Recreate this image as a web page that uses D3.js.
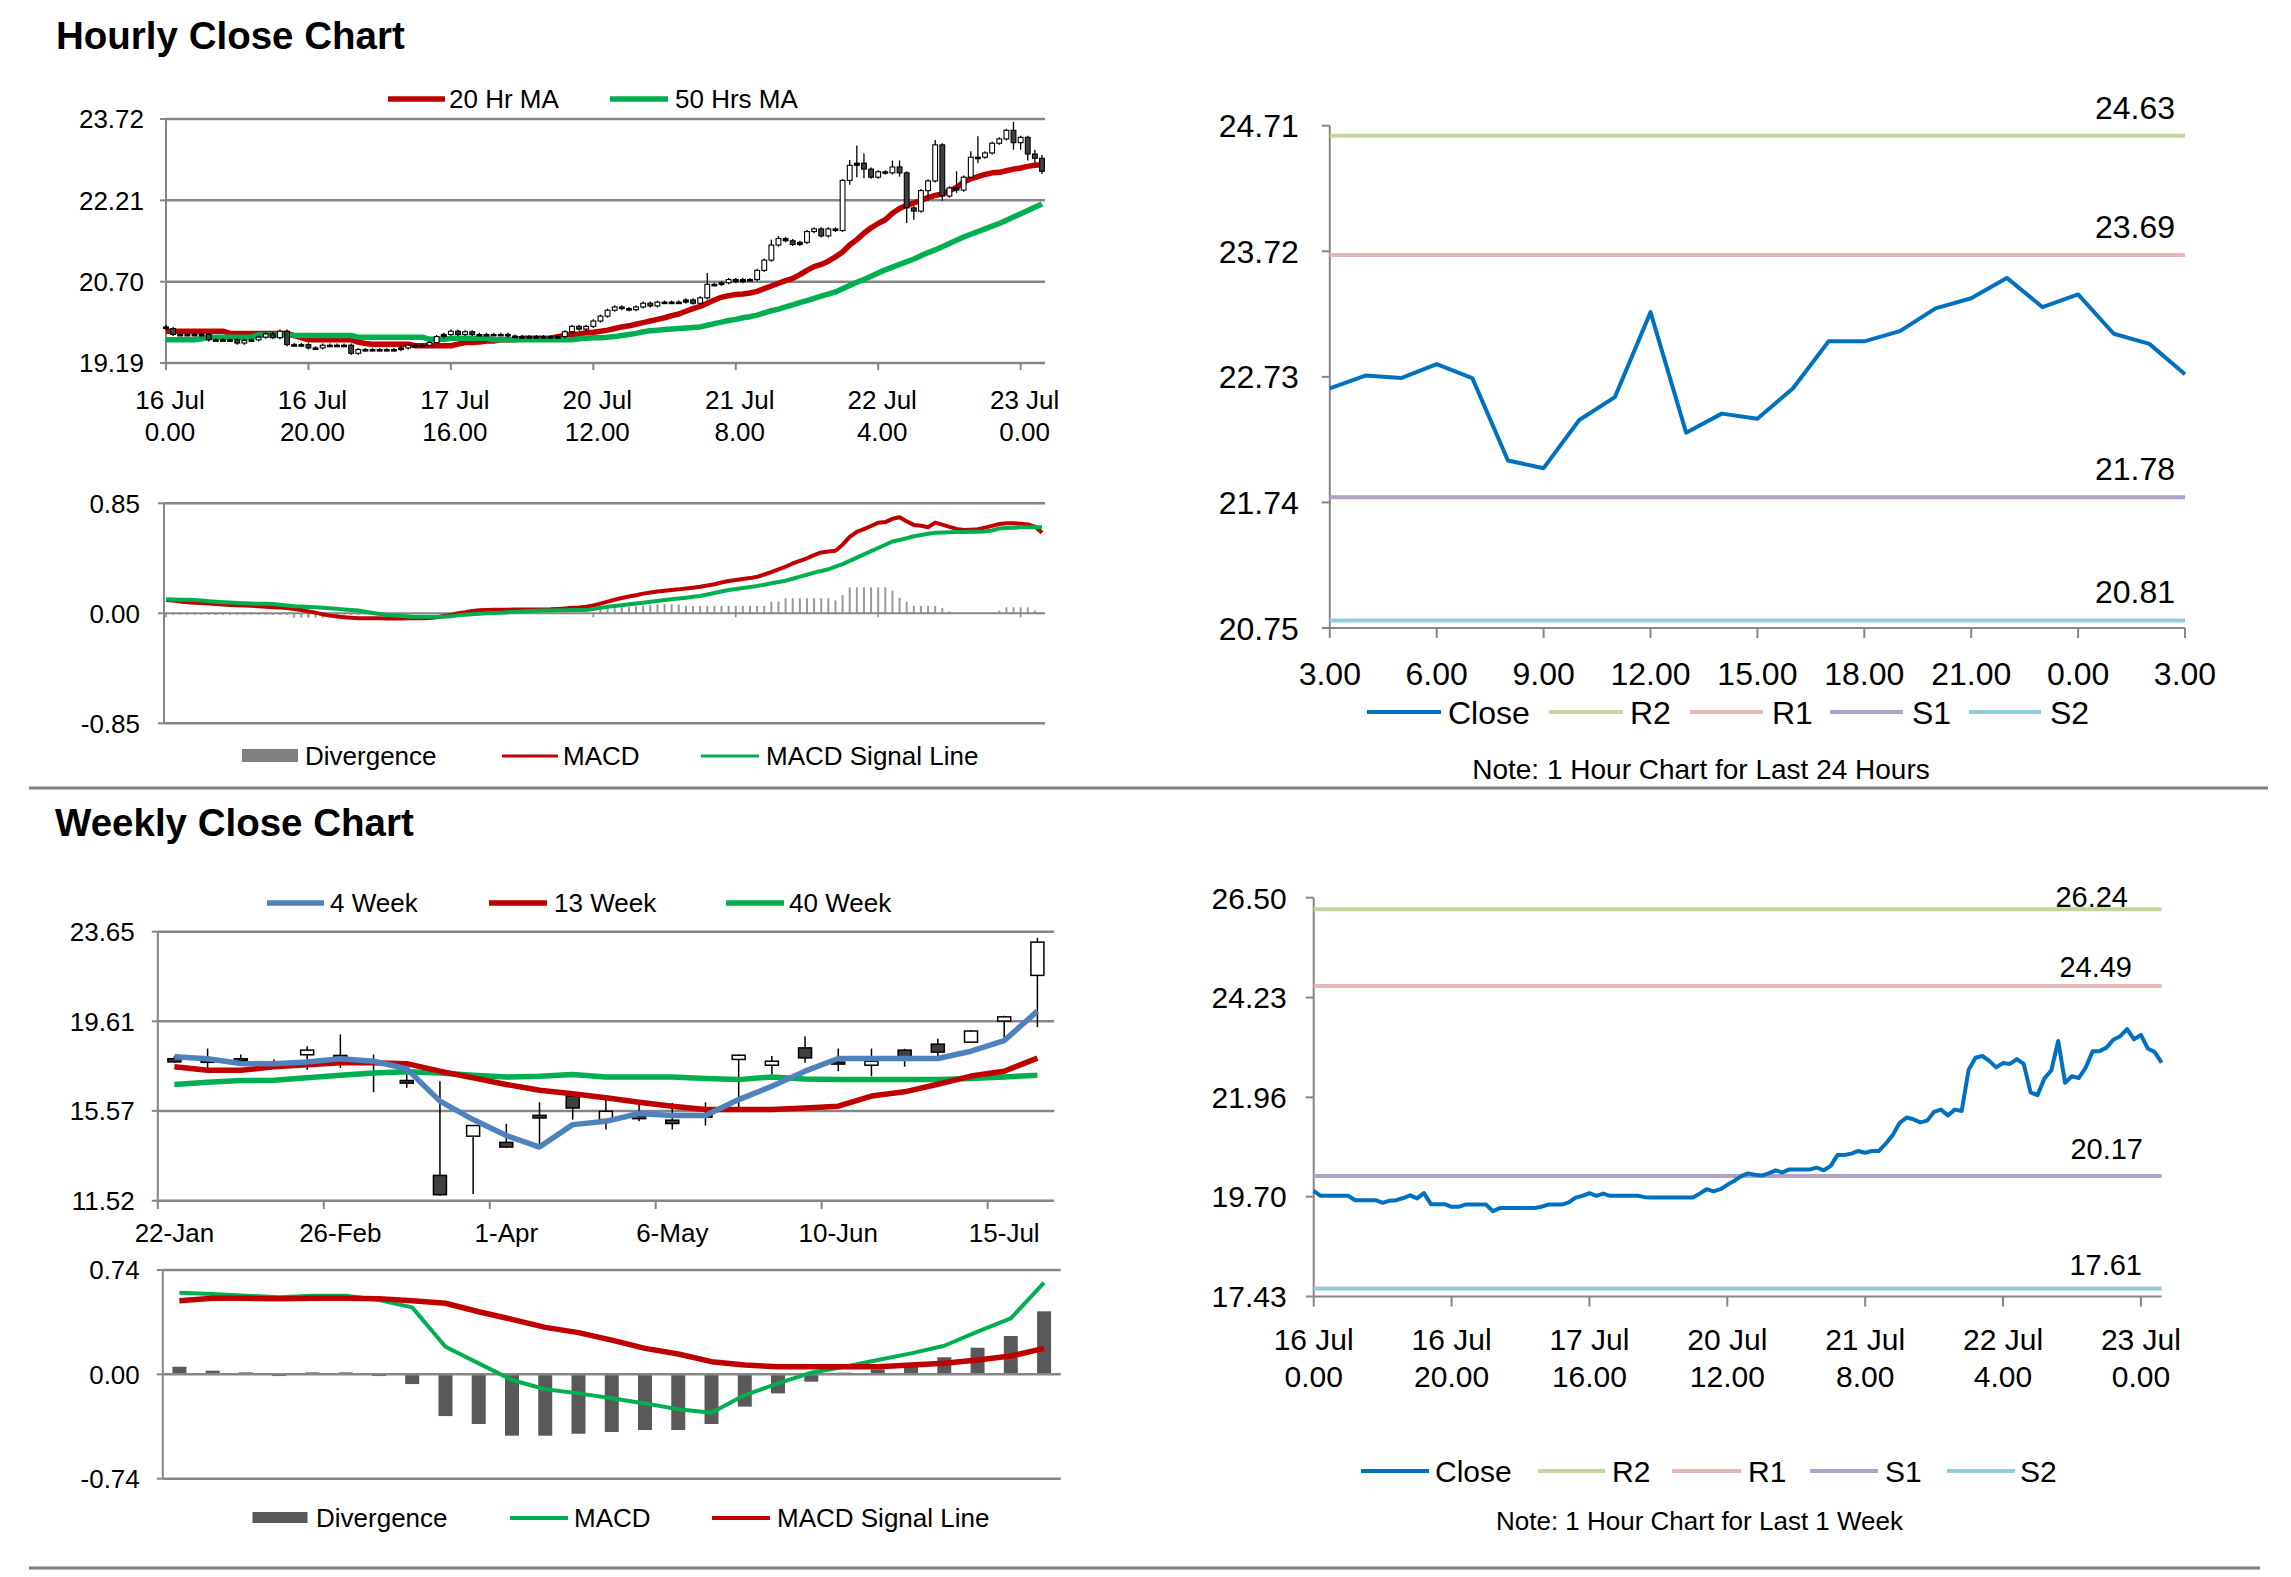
<!DOCTYPE html>
<html>
<head>
<meta charset="utf-8">
<script src="https://cdn.jsdelivr.net/npm/d3@7"></script>
<style>
body { margin: 0; background: #fff; }
text { font-family: "Liberation Sans", Arial, sans-serif; fill: #000; }
</style>
</head>
<body>
<script>
//hourly candles, 16 Jul 0.00 to 23 Jul 3.00
var hourOpen = [19.86,19.83,19.72,19.72,19.72,19.72,19.72,19.62,19.62,19.62,19.62,19.56,19.61,19.62,19.67,19.73,19.66,19.78,19.53,19.53,
  19.53,19.47,19.47,19.52,19.52,19.52,19.52,19.37,19.44,19.44,19.44,19.44,19.44,19.44,19.47,19.52,19.52,19.52,19.57,19.68,
  19.72,19.78,19.72,19.77,19.72,19.72,19.72,19.72,19.72,19.69,19.68,19.68,19.68,19.68,19.68,19.68,19.68,19.77,19.87,19.82,
  19.87,19.97,20.06,20.17,20.23,20.20,20.18,20.23,20.30,20.25,20.32,20.32,20.32,20.32,20.36,20.30,20.40,20.65,20.65,20.68,
  20.74,20.70,20.74,20.74,20.91,21.10,21.38,21.50,21.46,21.39,21.43,21.63,21.68,21.55,21.68,21.65,22.58,22.86,22.90,22.79,
  22.64,22.74,22.72,22.83,22.72,22.07,22.01,22.39,22.57,23.24,22.29,22.44,22.40,22.64,23.01,23.01,23.09,23.27,23.35,23.51,
  23.28,23.38,23.07,22.99];
var hourHigh = [19.90,19.86,19.75,19.75,19.75,19.75,19.75,19.65,19.65,19.65,19.65,19.64,19.65,19.70,19.76,19.76,19.81,19.81,19.56,19.56,
  19.56,19.50,19.55,19.55,19.55,19.55,19.55,19.47,19.47,19.47,19.47,19.47,19.47,19.50,19.55,19.55,19.55,19.60,19.71,19.75,
  19.81,19.81,19.80,19.80,19.75,19.75,19.75,19.75,19.75,19.72,19.71,19.71,19.71,19.71,19.71,19.71,19.80,19.90,19.90,19.90,
  20.00,20.09,20.20,20.26,20.26,20.23,20.26,20.33,20.33,20.35,20.35,20.35,20.35,20.39,20.39,20.43,20.86,20.68,20.71,20.77,
  20.77,20.77,20.77,20.94,21.13,21.48,21.55,21.53,21.49,21.46,21.66,21.71,21.71,21.71,21.71,22.61,22.96,23.23,23.08,22.82,
  22.77,22.77,22.95,22.95,22.75,22.10,22.42,22.60,23.33,23.27,22.47,22.75,22.67,23.12,23.40,23.12,23.30,23.38,23.54,23.67,
  23.41,23.41,23.15,23.05];
var hourLow = [19.80,19.69,19.69,19.69,19.69,19.69,19.59,19.59,19.59,19.59,19.53,19.53,19.58,19.59,19.64,19.63,19.63,19.50,19.50,19.50,
  19.44,19.44,19.44,19.49,19.49,19.49,19.34,19.34,19.41,19.41,19.41,19.41,19.41,19.41,19.44,19.49,19.49,19.49,19.54,19.65,
  19.69,19.69,19.69,19.69,19.69,19.69,19.69,19.69,19.66,19.65,19.65,19.65,19.65,19.65,19.65,19.65,19.65,19.74,19.79,19.79,
  19.84,19.94,20.03,20.14,20.17,20.15,20.15,20.20,20.22,20.22,20.29,20.29,20.29,20.29,20.27,20.27,20.37,20.62,20.62,20.65,
  20.67,20.67,20.71,20.71,20.88,21.07,21.35,21.43,21.36,21.36,21.40,21.60,21.52,21.52,21.62,21.62,22.50,22.64,22.62,22.61,
  22.61,22.69,22.69,22.65,21.79,21.85,21.98,22.20,22.54,22.20,22.26,22.35,22.37,22.61,22.90,22.98,23.06,23.24,23.32,23.15,
  23.15,22.95,22.90,22.70];
var hourClose = [19.83,19.72,19.72,19.72,19.72,19.72,19.62,19.62,19.62,19.62,19.56,19.61,19.62,19.67,19.73,19.66,19.78,19.53,19.53,19.53,
  19.47,19.47,19.52,19.52,19.52,19.52,19.37,19.44,19.44,19.44,19.44,19.44,19.44,19.47,19.52,19.52,19.52,19.57,19.68,19.72,
  19.78,19.72,19.77,19.72,19.72,19.72,19.72,19.72,19.69,19.68,19.68,19.68,19.68,19.68,19.68,19.68,19.77,19.87,19.82,19.87,
  19.97,20.06,20.17,20.23,20.20,20.18,20.23,20.30,20.25,20.32,20.32,20.32,20.32,20.36,20.30,20.40,20.65,20.65,20.68,20.74,
  20.70,20.74,20.74,20.91,21.10,21.38,21.50,21.46,21.39,21.43,21.63,21.68,21.55,21.68,21.65,22.58,22.86,22.90,22.79,22.64,
  22.74,22.72,22.83,22.72,22.07,22.01,22.39,22.57,23.24,22.29,22.44,22.40,22.64,23.01,23.01,23.09,23.27,23.35,23.51,23.28,
  23.38,23.07,22.99,22.75];
var ma20 = [19.78,19.78,19.78,19.78,19.78,19.78,19.78,19.78,19.78,19.74,19.74,19.74,19.74,19.74,19.74,19.74,19.74,19.74,19.70,19.66,
  19.62,19.62,19.62,19.62,19.62,19.62,19.62,19.58,19.55,19.54,19.54,19.54,19.54,19.54,19.54,19.51,19.51,19.51,19.51,19.51,
  19.51,19.54,19.57,19.57,19.58,19.60,19.60,19.62,19.62,19.62,19.65,19.65,19.65,19.65,19.65,19.68,19.70,19.72,19.73,19.75,
  19.76,19.78,19.80,19.83,19.86,19.88,19.91,19.94,19.97,20.00,20.03,20.07,20.10,20.15,20.20,20.24,20.30,20.36,20.41,20.44,
  20.46,20.47,20.49,20.52,20.57,20.62,20.67,20.72,20.76,20.83,20.91,20.98,21.02,21.08,21.16,21.25,21.38,21.48,21.60,21.70,
  21.78,21.85,21.97,22.06,22.12,22.16,22.21,22.26,22.30,22.33,22.39,22.45,22.55,22.61,22.65,22.69,22.72,22.73,22.76,22.79,
  22.81,22.84,22.86,22.87];
var ma50 = [19.62,19.62,19.62,19.62,19.62,19.64,19.67,19.67,19.67,19.67,19.67,19.67,19.67,19.71,19.71,19.71,19.71,19.71,19.70,19.70,
  19.70,19.70,19.70,19.70,19.70,19.70,19.70,19.67,19.67,19.67,19.67,19.67,19.67,19.67,19.67,19.67,19.67,19.63,19.63,19.63,
  19.65,19.65,19.65,19.65,19.65,19.65,19.62,19.62,19.62,19.62,19.62,19.62,19.62,19.62,19.62,19.62,19.62,19.62,19.64,19.65,
  19.66,19.66,19.67,19.68,19.70,19.72,19.74,19.77,19.79,19.80,19.81,19.82,19.83,19.84,19.85,19.86,19.89,19.92,19.95,19.98,
  20.00,20.03,20.05,20.08,20.12,20.16,20.19,20.23,20.27,20.31,20.35,20.39,20.43,20.47,20.51,20.57,20.63,20.69,20.74,20.80,
  20.86,20.92,20.97,21.02,21.07,21.12,21.18,21.24,21.29,21.35,21.41,21.47,21.53,21.58,21.63,21.68,21.73,21.78,21.84,21.90,
  21.96,22.02,22.08,22.14];
var hourTicks = [["16 Jul","0.00"],["16 Jul","20.00"],["17 Jul","16.00"],["20 Jul","12.00"],["21 Jul","8.00"],["22 Jul","4.00"],["23 Jul","0.00"]];
var hourPriceTicks = [19.19, 20.70, 22.21, 23.72];

//hourly MACD
var hMacd = [0.103,0.098,0.092,0.085,0.082,0.080,0.076,0.072,0.068,0.065,0.062,0.060,0.058,0.055,0.050,0.046,0.044,0.040,0.034,0.026,
  0.015,0.005,-0.008,-0.018,-0.024,-0.030,-0.035,-0.038,-0.039,-0.039,-0.039,-0.040,-0.040,-0.040,-0.039,-0.039,-0.039,-0.037,-0.030,-0.021,
  -0.012,0.000,0.008,0.018,0.024,0.026,0.027,0.028,0.028,0.029,0.029,0.030,0.030,0.030,0.031,0.034,0.038,0.042,0.045,0.050,
  0.060,0.075,0.090,0.105,0.118,0.130,0.140,0.152,0.160,0.168,0.175,0.180,0.185,0.192,0.198,0.205,0.215,0.225,0.238,0.250,
  0.258,0.265,0.272,0.282,0.300,0.318,0.340,0.360,0.385,0.405,0.425,0.450,0.470,0.478,0.484,0.530,0.590,0.630,0.650,0.675,
  0.700,0.705,0.730,0.742,0.710,0.683,0.676,0.665,0.701,0.685,0.668,0.652,0.644,0.646,0.649,0.662,0.676,0.690,0.696,0.696,
  0.692,0.686,0.670,0.623];
var hSignal = [0.108,0.106,0.105,0.104,0.102,0.098,0.094,0.090,0.086,0.083,0.080,0.078,0.076,0.074,0.073,0.072,0.066,0.060,0.055,0.052,
  0.049,0.046,0.042,0.039,0.035,0.030,0.025,0.021,0.012,0.003,-0.006,-0.013,-0.017,-0.021,-0.024,-0.026,-0.026,-0.026,-0.026,-0.026,
  -0.022,-0.016,-0.011,-0.007,-0.004,0.000,0.003,0.005,0.008,0.011,0.014,0.017,0.019,0.021,0.022,0.023,0.024,0.025,0.026,0.026,
  0.034,0.042,0.050,0.057,0.063,0.070,0.076,0.082,0.089,0.095,0.102,0.108,0.114,0.121,0.128,0.134,0.145,0.157,0.168,0.180,
  0.188,0.196,0.203,0.211,0.221,0.232,0.242,0.252,0.267,0.283,0.298,0.314,0.327,0.340,0.360,0.380,0.405,0.430,0.455,0.480,
  0.505,0.530,0.555,0.567,0.580,0.595,0.605,0.614,0.623,0.625,0.627,0.628,0.629,0.630,0.631,0.633,0.640,0.655,0.660,0.662,
  0.665,0.665,0.665,0.665];
var hDiverge = [-0.012,-0.012,-0.012,-0.012,-0.012,-0.012,-0.012,-0.012,-0.012,-0.012,-0.012,-0.012,-0.012,-0.012,-0.012,-0.012,-0.012,-0.012,-0.035,-0.035,
  -0.035,-0.035,-0.035,-0.012,-0.012,-0.012,-0.012,-0.012,-0.012,-0.012,-0.012,-0.012,-0.012,-0.012,-0.012,0,0,0,0,0,
  0,0,0,0,0,0,0,0,0,0,0,0,0,0,0,0,0,0,0,0,
  0,0.030,0.035,0.040,0.045,0.050,0.055,0.060,0.065,0.070,0.070,0.070,0.068,0.057,0.057,0.057,0.057,0.057,0.057,0.057,
  0.057,0.057,0.057,0.057,0.057,0.090,0.090,0.116,0.116,0.116,0.116,0.116,0.116,0.116,0.100,0.140,0.200,0.200,0.200,0.200,
  0.200,0.200,0.175,0.120,0.090,0.057,0.057,0.057,0.057,0.040,0.015,0.003,0.003,0.003,0.003,0.003,0.003,0.020,0.046,0.046,
  0.046,0.046,0.020,0.005];

//24 hour close with pivot levels
var dayClose = hourClose.slice(99);
var dayTicks = ["3.00","6.00","9.00","12.00","15.00","18.00","21.00","0.00","3.00"];
var dayPriceTicks = [20.75, 21.74, 22.73, 23.72, 24.71];
var dayLevelNames = ["R2","R1","S1","S2"];
var dayLevels = [24.63, 23.69, 21.78, 20.81];

//1 week close with pivot levels
var weekPriceTicks = [17.43, 19.70, 21.96, 24.23, 26.50];
var weekLevels = [26.24, 24.49, 20.17, 17.61];

//weekly candles
var weekLabels = ["22-Jan","29-Jan","5-Feb","12-Feb","19-Feb","26-Feb","4-Mar","11-Mar","18-Mar","25-Mar","1-Apr","8-Apr","15-Apr","22-Apr",
  "29-Apr","6-May","13-May","20-May","27-May","3-Jun","10-Jun","17-Jun","24-Jun","1-Jul","8-Jul","15-Jul","22-Jul"];
var wOpen  = [17.92,17.85,17.92,17.76,18.10,18.07,17.80,16.94,12.66,14.43,14.15,15.37,16.23,15.18,15.33,15.15,15.38,17.89,17.63,18.41,17.77,17.63,18.31,18.58,18.67,19.62,21.68];
var wHigh  = [18.04,18.38,18.11,17.89,18.49,19.02,18.11,17.28,16.91,14.93,14.99,15.96,16.46,16.08,15.85,15.93,15.96,18.11,18.04,18.94,18.38,18.38,18.37,18.82,19.22,19.86,23.38];
var wLow   = [17.74,17.28,17.74,17.59,17.43,17.51,16.41,16.61,11.75,11.82,13.90,13.90,15.18,14.73,15.10,14.73,14.91,15.70,17.21,17.74,17.36,17.13,17.56,18.04,18.64,18.71,19.35];
var wClose = [17.78,17.80,17.88,17.73,18.31,17.95,17.76,16.82,11.79,14.91,13.94,15.25,15.70,15.55,15.22,15.00,15.35,18.08,17.81,17.96,17.74,17.81,18.01,18.22,19.17,19.81,23.18];
var ma4w  = [18.01,17.92,17.71,17.69,17.77,17.92,17.81,17.47,16.01,15.18,14.46,13.94,14.95,15.10,15.45,15.36,15.36,16.08,16.68,17.36,17.93,17.93,17.93,17.93,18.26,18.74,20.07];
var ma13w = [17.56,17.40,17.40,17.56,17.65,17.74,17.74,17.70,17.36,17.06,16.76,16.50,16.34,16.16,15.96,15.78,15.63,15.63,15.63,15.70,15.78,16.24,16.43,16.77,17.14,17.36,17.95];
var ma40w = [16.76,16.86,16.94,16.95,17.06,17.18,17.28,17.34,17.28,17.18,17.10,17.13,17.21,17.10,17.10,17.10,17.03,16.98,17.10,17.01,16.98,16.98,16.98,16.98,17.03,17.10,17.18];
var weekPriceTicks2 = [11.52, 15.57, 19.61, 23.65];

//weekly MACD
var wDiverge = [0.054,0.026,0.014,-0.012,0.014,0.014,-0.012,-0.069,-0.296,-0.352,-0.435,-0.435,-0.421,-0.409,-0.395,-0.395,-0.352,-0.229,-0.135,-0.052,0.012,0.035,0.066,0.121,0.189,0.272,0.447];
var wMacd = [0.579,0.570,0.558,0.546,0.558,0.558,0.527,0.475,0.196,0.078,-0.040,-0.106,-0.135,-0.170,-0.206,-0.248,-0.272,-0.147,-0.064,0.012,0.054,0.102,0.149,0.203,0.303,0.397,0.650];
var wSignal = [0.522,0.539,0.539,0.537,0.539,0.539,0.537,0.522,0.504,0.444,0.390,0.333,0.296,0.243,0.184,0.144,0.090,0.066,0.054,0.054,0.054,0.054,0.066,0.078,0.102,0.130,0.184];

//colours
var RED = "#C00000", GREEN = "#00B050", BLUE = "#4F81BD", CLOSE = "#0070C0", GREY = "#868686";
var levelColors = ["#C3D69B", "#E6B9B8", "#B3A2C7", "#93CDDD"];

var svg = d3.select("body").append("svg").attr("width", 2291).attr("height", 1577);

//text placed by the vertical centre of its digits
function label(x, yc, s, size, anchor, weight) {
    return svg.append("text")
        .attr("x", x).attr("y", yc + size * 0.36)
        .attr("font-size", size)
        .attr("text-anchor", anchor || "start")
        .attr("font-weight", weight || "normal")
        .text(s);
}

function hline(x0, x1, y, color, w) {
    svg.append("line").attr("x1", x0).attr("x2", x1).attr("y1", y).attr("y2", y)
        .attr("stroke", color).attr("stroke-width", w);
}

function vline(x, y0, y1, color, w) {
    svg.append("line").attr("x1", x).attr("x2", x).attr("y1", y0).attr("y2", y1)
        .attr("stroke", color).attr("stroke-width", w);
}

//left value axis with outward ticks and right aligned labels
function valueAxis(x, y, ticks, size, gap, tickLen) {
    var r = y.range();
    vline(x, r[0], r[1], GREY, 2);
    ticks.forEach(function(t) {
        hline(x - tickLen, x, y(t), GREY, 2);
        label(x - gap, y(t), t.toFixed(2), size, "end");
    });
}

function legendLine(x0, x1, xt, yc, color, w, name, size) {
    hline(x0, x1, yc, color, w);
    label(xt, yc, name, size);
}

function drawLine(data, x, y, color, w) {
    var line = d3.line().x(function(d, i) { return x(i); }).y(function(d) { return y(d); });
    svg.append("path").datum(data).attr("d", line).attr("fill", "none")
        .attr("stroke", color).attr("stroke-width", w).attr("stroke-linejoin", "round");
}

//titles and separators
label(56, 35, "Hourly Close Chart", 38.5, "start", "bold");
label(55, 822, "Weekly Close Chart", 38.5, "start", "bold");
hline(29, 2268, 788, "#808080", 3);
hline(29, 2260, 1568, "#808080", 3);

// ---------- hourly candle chart ----------
var xH = d3.scaleLinear().domain([0, 123]).range([166, 1042]);
var yH = d3.scaleLinear().domain([19.19, 23.72]).range([363, 119]);
hourPriceTicks.forEach(function(t) { hline(166, 1045, yH(t), GREY, 2.5); });
valueAxis(166, yH, hourPriceTicks, 26, 22, 6);
hourTicks.forEach(function(t, k) {
    var x = xH(k * 20);
    vline(x, 363, 370, GREY, 2);
    label(x + 4, 400, t[0], 26, "middle");
    label(x + 4, 432, t[1], 26, "middle");
});
drawLine(ma20, xH, yH, RED, 5.5);
drawLine(ma50, xH, yH, GREEN, 5.5);

var hc = svg.append("g");
hourClose.forEach(function(c, i) {
    var o = hourOpen[i], x = xH(i);
    hc.append("line").attr("x1", x).attr("x2", x)
        .attr("y1", yH(hourHigh[i])).attr("y2", yH(hourLow[i]))
        .attr("stroke", "#000").attr("stroke-width", 1.3);
    var top = yH(Math.max(o, c)), bot = yH(Math.min(o, c));
    var flat = bot - top < 2.5;
    hc.append("rect").attr("x", x - 2.4).attr("width", 4.8)
        .attr("y", top).attr("height", Math.max(bot - top, 1.5))
        .attr("fill", flat ? "#000" : (c >= o ? "#fff" : "#404040"))
        .attr("stroke", "#000").attr("stroke-width", 1.1);
});
legendLine(388, 445, 449, 99, RED, 5.5, "20 Hr MA", 26);
legendLine(610, 668, 675, 99, GREEN, 5.5, "50 Hrs MA", 26);

// ---------- hourly MACD ----------
var yM = d3.scaleLinear().domain([-0.85, 0.85]).range([723.3, 503.3]);
hline(164, 1045, yM(0.85), GREY, 2.5);
hline(164, 1045, yM(-0.85), GREY, 2.5);
svg.append("g").selectAll("rect").data(hDiverge).enter().append("rect")
    .attr("x", function(d, i) { return xH(i) - 1; })
    .attr("width", 2)
    .attr("y", function(d) { return Math.min(yM(d), yM(0)); })
    .attr("height", function(d) { return Math.abs(yM(d) - yM(0)); })
    .attr("fill", "#999");
hline(164, 1045, yM(0), GREY, 2);
for (var k = 0; k <= 6; k++) { vline(xH(k * 20), yM(0), yM(0) + 4, GREY, 1.5); }
valueAxis(164, yM, [-0.85, 0, 0.85], 26, 24, 6);
drawLine(hMacd, xH, yM, RED, 4);
drawLine(hSignal, xH, yM, GREEN, 4);
svg.append("rect").attr("x", 242).attr("y", 749).attr("width", 56).attr("height", 13).attr("fill", "#808080");
label(305, 756, "Divergence", 26);
legendLine(502, 558, 563, 756, RED, 3, "MACD", 26);
legendLine(701, 759, 766, 756, GREEN, 3, "MACD Signal Line", 26);

// ---------- 24 hour chart ----------
var xD = d3.scaleLinear().domain([0, 24]).range([1329.8, 2185]);
var yD = d3.scaleLinear().domain([20.75, 24.71]).range([628, 125.7]);
valueAxis(1329.8, yD, dayPriceTicks, 32, 31, 8);
hline(1329.8, 2185, 628, GREY, 2);
dayTicks.forEach(function(t, k) {
    var x = xD(k * 3);
    vline(x, 628, 638, GREY, 2);
    label(x, 673, t, 32, "middle");
});
dayLevels.forEach(function(v, k) {
    hline(1329.8, 2185, yD(v), levelColors[k], 4);
    label(2175, yD(v) - 28.5, v.toFixed(2), 32, "end");
});
drawLine(dayClose, xD, yD, CLOSE, 4);
legendLine(1367, 1441, 1448, 712, CLOSE, 4, "Close", 32);
var dayLegX = [[1549, 1623, 1630], [1690, 1763, 1772], [1830, 1903, 1912], [1969, 2041, 2050]];
dayLevelNames.forEach(function(n, k) {
    legendLine(dayLegX[k][0], dayLegX[k][1], dayLegX[k][2], 712, levelColors[k], 4, n, 32);
});
label(1701, 769, "Note: 1 Hour Chart for Last 24 Hours", 28, "middle");

// ---------- 1 week chart ----------
var xW = d3.scaleLinear().domain([0, 123]).range([1313.7, 2161.6]);
var yW = d3.scaleLinear().domain([17.43, 26.50]).range([1296.5, 897.7]);
valueAxis(1313.7, yW, weekPriceTicks, 30, 27, 8);
hline(1313.7, 2161.6, 1296.5, GREY, 2);
hourTicks.forEach(function(t, k) {
    var x = xW(k * 20);
    vline(x, 1296.5, 1306.5, GREY, 2);
    label(x, 1339, t[0], 30, "middle");
    label(x, 1376, t[1], 30, "middle");
});
var weekLabelDy = [-13, -20, -27, -24], weekLabelX = [2128, 2132, 2143, 2142];
weekLevels.forEach(function(v, k) {
    hline(1313.7, 2161.6, yW(v), levelColors[k], 4);
    label(weekLabelX[k], yW(v) + weekLabelDy[k], v.toFixed(2), 29, "end");
});
drawLine(hourClose, xW, yW, CLOSE, 4);
legendLine(1361, 1429, 1435, 1471, CLOSE, 4, "Close", 30);
var weekLegX = [[1538, 1605, 1612], [1672, 1741, 1748], [1810, 1878, 1885], [1947, 2015, 2020]];
dayLevelNames.forEach(function(n, k) {
    legendLine(weekLegX[k][0], weekLegX[k][1], weekLegX[k][2], 1471, levelColors[k], 4, n, 30);
});
label(1699.5, 1521, "Note: 1 Hour Chart for Last 1 Week", 26, "middle");

// ---------- weekly candle chart ----------
var xK = d3.scaleBand().domain(d3.range(weekLabels.length)).range([157.8, 1054]);
var yK = d3.scaleLinear().domain([11.52, 23.65]).range([1200.7, 931.7]);
var kc = function(i) { return xK(i) + xK.bandwidth() / 2; };
weekPriceTicks2.forEach(function(t) { hline(157.8, 1054, yK(t), GREY, 2.5); });
valueAxis(157.8, yK, weekPriceTicks2, 26, 23, 6);
for (var j = 0; j < weekLabels.length; j += 5) {
    vline(xK(j), 1200.7, 1209, GREY, 2);
    label(kc(j), 1233, weekLabels[j], 26, "middle");
}
var wc = svg.append("g");
wClose.forEach(function(c, i) {
    var o = wOpen[i], x = kc(i);
    wc.append("line").attr("x1", x).attr("x2", x)
        .attr("y1", yK(wHigh[i])).attr("y2", yK(wLow[i]))
        .attr("stroke", "#000").attr("stroke-width", 1.5);
    var top = yK(Math.max(o, c)), bot = yK(Math.min(o, c));
    wc.append("rect").attr("x", x - 6.5).attr("width", 13)
        .attr("y", top).attr("height", Math.max(bot - top, 2))
        .attr("fill", c >= o ? "#fff" : "#404040")
        .attr("stroke", "#000").attr("stroke-width", 1.5);
});
var kLine = function(i) { return kc(i); };
drawLine(ma40w, kLine, yK, GREEN, 5.5);
drawLine(ma13w, kLine, yK, RED, 5.5);
drawLine(ma4w, kLine, yK, BLUE, 5.5);
legendLine(267, 324, 330, 903, BLUE, 5.5, "4 Week", 26);
legendLine(489, 547, 554, 903, RED, 5.5, "13 Week", 26);
legendLine(726, 784, 789, 903, GREEN, 5.5, "40 Week", 26);

// ---------- weekly MACD ----------
var xKM = d3.scaleBand().domain(d3.range(weekLabels.length)).range([162.8, 1060.7]);
var yKM = d3.scaleLinear().domain([-0.74, 0.74]).range([1478.7, 1270]);
var kmc = function(i) { return xKM(i) + xKM.bandwidth() / 2; };
hline(162.8, 1060.7, yKM(0.74), GREY, 2.5);
hline(162.8, 1060.7, yKM(-0.74), GREY, 2.5);
svg.append("g").selectAll("rect").data(wDiverge).enter().append("rect")
    .attr("x", function(d, i) { return kmc(i) - 7; })
    .attr("width", 14)
    .attr("y", function(d) { return Math.min(yKM(d), yKM(0)); })
    .attr("height", function(d) { return Math.abs(yKM(d) - yKM(0)); })
    .attr("fill", "#595959");
hline(162.8, 1060.7, yKM(0), GREY, 2.5);
valueAxis(162.8, yKM, [-0.74, 0, 0.74], 26, 23, 6);
drawLine(wMacd, kmc, yKM, GREEN, 4);
drawLine(wSignal, kmc, yKM, RED, 5.5);
svg.append("rect").attr("x", 252.5).attr("y", 1512).attr("width", 55).attr("height", 11).attr("fill", "#595959");
label(316, 1518, "Divergence", 26);
legendLine(510, 568, 574, 1518, GREEN, 4, "MACD", 26);
legendLine(712, 770, 777, 1518, RED, 4, "MACD Signal Line", 26);
</script>
</body>
</html>
